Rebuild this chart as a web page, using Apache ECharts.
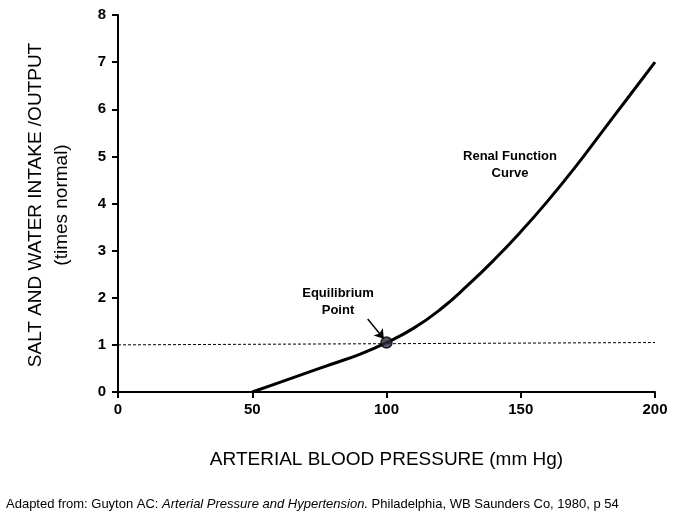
<!DOCTYPE html>
<html>
<head>
<meta charset="utf-8">
<script src="https://cdn.jsdelivr.net/npm/echarts@6/dist/echarts.min.js"></script>
<style>html,body{margin:0;padding:0;background:#fff}#chart{width:680px;height:519px}</style>
</head>
<body>
<div id="chart"></div>
<script>
// ── Data ────────────────────────────────────────────────────────────────
const pressure = [50, 60, 70, 80, 90, 100, 110, 120, 130, 140, 150, 160, 170, 180, 190, 200]
const output = [0, 0.2, 0.4, 0.6, 0.8, 1.05, 1.35, 1.75, 2.25, 2.8, 3.4, 4.05, 4.75, 5.5, 6.25, 7.0]
const intakeLine = [[0, 1.0], [200, 1.05]]
const equilibrium = [100, 1.05]
const arrowFrom = [93, 1.55]
const arrowTo = [99, 1.13]

const chart = echarts.init(document.getElementById('chart'))
const axisStyle = { lineStyle: { color: '#000', width: 2 } }

chart.setOption({
  animation: false,
  grid: { left: 118, right: 25, top: 15, bottom: 127 },
  xAxis: {
    type: 'value', min: 0, max: 200, interval: 50,
    name: 'ARTERIAL BLOOD PRESSURE (mm Hg)', nameLocation: 'middle', nameGap: 58,
    nameTextStyle: { fontSize: 19, color: '#000', fontFamily: 'Liberation Sans' },
    axisLine: axisStyle,
    axisTick: { show: true, inside: false, length: 6, lineStyle: { color: '#000', width: 2 } },
    axisLabel: { color: '#000', fontWeight: 'bold', fontSize: 15, margin: 10, fontFamily: 'Liberation Sans' },
    splitLine: { show: false }
  },
  yAxis: {
    type: 'value', min: 0, max: 8, interval: 1,
    axisLine: { show: true, ...axisStyle },
    axisTick: { show: true, length: 6, lineStyle: { color: '#000', width: 2 } },
    axisLabel: { color: '#000', fontWeight: 'bold', fontSize: 15, margin: 12, fontFamily: 'Liberation Sans' },
    splitLine: { show: false }
  },
  graphic: [
    { type: 'text', rotation: Math.PI / 2, x: 36, y: 205,
      style: { text: 'SALT AND WATER INTAKE /OUTPUT', fontSize: 19, fill: '#000', fontFamily: 'Liberation Sans', align: 'center', verticalAlign: 'middle' } },
    { type: 'text', rotation: Math.PI / 2, x: 62, y: 205,
      style: { text: '(times normal)', fontSize: 19, fill: '#000', fontFamily: 'Liberation Sans', align: 'center', verticalAlign: 'middle' } },
    { type: 'text', x: 510, y: 148,
      style: { text: 'Renal Function\nCurve', fontSize: 13, fontWeight: 'bold', fill: '#000', fontFamily: 'Liberation Sans', align: 'center', lineHeight: 17 } },
    { type: 'text', x: 338, y: 285,
      style: { text: 'Equilibrium\nPoint', fontSize: 13, fontWeight: 'bold', fill: '#000', fontFamily: 'Liberation Sans', align: 'center', lineHeight: 17 } },
    { type: 'text', x: 6, y: 498,
      style: { rich: { n: { fontSize: 13, fill: '#000', fontFamily: 'Liberation Sans' }, i: { fontSize: 13, fontStyle: 'italic', fill: '#000', fontFamily: 'Liberation Sans' } },
        text: '{n|Adapted from: Guyton AC: }{i|Arterial Pressure and Hypertension.}{n| Philadelphia, WB Saunders Co, 1980, p 54}' } }
  ],
  series: [
    { type: 'line', data: intakeLine, symbol: 'none', silent: true,
      lineStyle: { color: '#000', width: 1, type: [3, 2] } },
    { type: 'line', data: pressure.map((p, i) => [p, output[i]]), smooth: true, symbol: 'none',
      lineStyle: { color: '#000', width: 3 },
      markLine: { silent: true, symbol: ['none', 'arrow'], symbolSize: 9, label: { show: false },
        lineStyle: { color: '#000', width: 1.5, type: 'solid' },
        data: [[{ coord: arrowFrom }, { coord: arrowTo }]] } },
    { type: 'scatter', data: [equilibrium], symbolSize: 11, z: 5,
      itemStyle: { color: '#2a2a40', borderColor: '#000', borderWidth: 1.5 } }
  ]
})
</script>
</body>
</html>
